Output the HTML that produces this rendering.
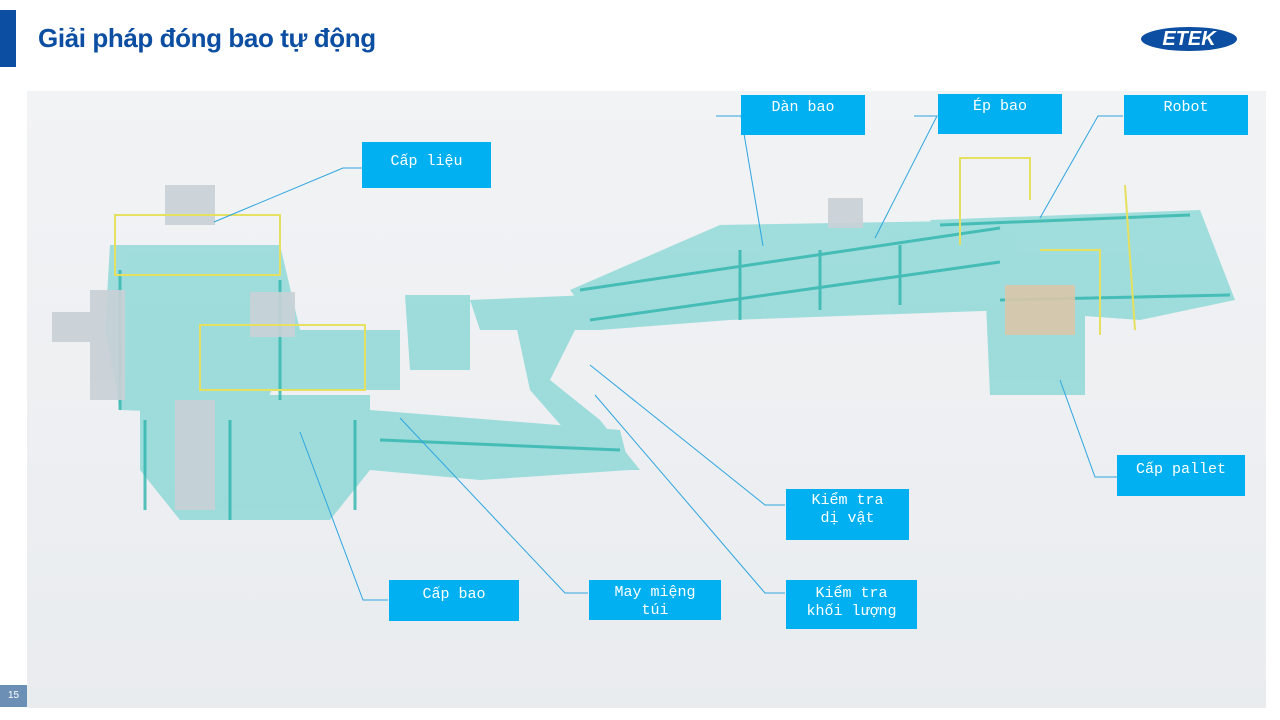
<!DOCTYPE html>
<html><head><meta charset="utf-8"><style>
body{margin:0;width:1280px;height:720px;background:#fff;position:relative;overflow:hidden;font-family:"Liberation Sans",sans-serif}
.bar{position:absolute;left:0;top:10px;width:16px;height:57px;background:#0b4ea2}
h1{position:absolute;left:38px;top:23px;margin:0;font-size:26px;font-weight:bold;color:#0b4ea2;letter-spacing:-0.4px}
.logo{position:absolute;left:1141px;top:27px;width:96px;height:24px;border-radius:50%;background:#0b4ea2;color:#fff;font-weight:bold;font-style:italic;font-size:20px;text-align:center;line-height:24px}
.pg{position:absolute;left:0;top:685px;width:27px;height:22px;background:#6b8fb5;color:#fff;font-size:10px;line-height:22px;text-align:center}
svg{position:absolute;left:0;top:0}
.lb{position:absolute;background:#00b0f0;color:#fff;font-family:"Liberation Mono",monospace;font-size:15px;text-align:center;line-height:18px}
</style></head><body>
<div class="bar"></div>
<h1>Giải pháp đóng bao tự động</h1>
<div class="logo">ETEK</div>
<svg width="1280" height="720">
<defs><linearGradient id="bg" x1="0" y1="0" x2="0" y2="1"><stop offset="0" stop-color="#f2f3f5"/><stop offset="1" stop-color="#e9ecef"/></linearGradient></defs>
<rect x="27" y="91" width="1239" height="617" fill="url(#bg)"/>
<g fill="#3ec6c0" opacity="0.45">
<polygon points="110,245 280,245 300,330 260,415 120,410 105,330"/>
<polygon points="140,395 370,395 370,470 330,520 180,520 140,470"/>
<polygon points="240,330 400,330 400,390 250,390"/>
<polygon points="370,410 620,430 630,470 480,480 370,470"/>
<polygon points="405,295 470,295 470,370 410,370"/>
<polygon points="470,300 590,295 600,330 480,330"/>
<polygon points="515,320 560,300 575,330 550,380 600,420 640,470 600,470 530,390"/>
<polygon points="570,290 720,225 1010,220 1010,310 730,320 600,330"/>
<polygon points="930,220 1200,210 1235,300 1140,320 1000,310"/>
<polygon points="985,280 1085,280 1085,395 990,395"/>
</g>
<g stroke="#2fb5ad" stroke-width="3" fill="none" opacity="0.8">
<line x1="120" y1="270" x2="120" y2="410"/><line x1="145" y1="420" x2="145" y2="510"/><line x1="230" y1="420" x2="230" y2="520"/>
<line x1="355" y1="420" x2="355" y2="510"/><line x1="280" y1="280" x2="280" y2="400"/>
<line x1="580" y1="290" x2="1000" y2="228"/><line x1="590" y1="320" x2="1000" y2="262"/>
<line x1="740" y1="250" x2="740" y2="320"/><line x1="820" y1="250" x2="820" y2="310"/><line x1="900" y1="245" x2="900" y2="305"/>
<line x1="940" y1="225" x2="1190" y2="215"/><line x1="1000" y1="300" x2="1230" y2="295"/>
<line x1="380" y1="440" x2="620" y2="450"/>
</g>
<g fill="#c9d0d6" opacity="0.9">
<rect x="165" y="185" width="50" height="40"/><rect x="250" y="292" width="45" height="45"/>
<rect x="90" y="290" width="35" height="110"/><rect x="175" y="400" width="40" height="110"/>
<rect x="52" y="312" width="40" height="30"/><rect x="828" y="198" width="35" height="30"/>
<rect x="1005" y="285" width="70" height="50" fill="#d9c7a8"/>
</g>
<g stroke="#e6e060" stroke-width="2" fill="none">
<rect x="115" y="215" width="165" height="60"/><rect x="200" y="325" width="165" height="65"/>
<polyline points="960,245 960,158 1030,158 1030,200"/><polyline points="1040,250 1100,250 1100,335"/>
<polyline points="1125,185 1135,330"/>
</g>
<g stroke="#2ea6e0" stroke-width="1" fill="none">
<polyline points="214,222 343,168 362,168"/>
<polyline points="716,116 741,116 763,246"/>
<polyline points="914,116 937,116 875,238"/>
<polyline points="1123,116 1098,116 1040,218"/>
<polyline points="1060,380 1095,477 1117,477"/>
<polyline points="590,365 765,505 785,505"/>
<polyline points="595,395 765,593 785,593"/>
<polyline points="400,418 565,593 588,593"/>
<polyline points="300,432 363,600 388,600"/>
</g>
</svg>
<div class="lb" style="left:362px;top:142px;width:129px;height:46px;line-height:40px">Cấp liệu</div>
<div class="lb" style="left:741px;top:95px;width:124px;height:40px;line-height:26px">Dàn bao</div>
<div class="lb" style="left:938px;top:94px;width:124px;height:40px;line-height:26px">Ép bao</div>
<div class="lb" style="left:1124px;top:95px;width:124px;height:40px;line-height:26px">Robot</div>
<div class="lb" style="left:1117px;top:455px;width:128px;height:41px;line-height:30px">Cấp pallet</div>
<div class="lb" style="left:786px;top:489px;width:123px;height:51px;padding-top:3px;box-sizing:border-box">Kiểm tra<br>dị vật</div>
<div class="lb" style="left:786px;top:580px;width:131px;height:49px;padding-top:5px;box-sizing:border-box">Kiểm tra<br>khối lượng</div>
<div class="lb" style="left:589px;top:580px;width:132px;height:40px;padding-top:4px;box-sizing:border-box">May miệng<br>túi</div>
<div class="lb" style="left:389px;top:580px;width:130px;height:41px;line-height:30px">Cấp bao</div>
<div class="pg">15</div>
</body></html>
